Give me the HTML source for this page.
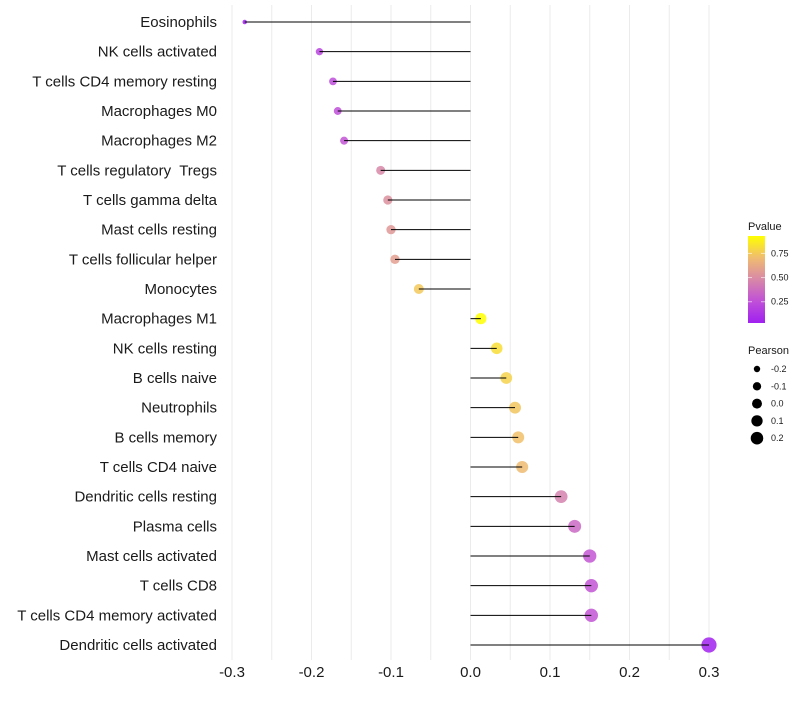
<!DOCTYPE html>
<html><head><meta charset="utf-8"><style>
body{margin:0;background:#fff;}
svg{font-family:"Liberation Sans",sans-serif;}
svg text{white-space:pre;}
</style></head><body>
<svg id="c" width="800" height="700" xmlns="http://www.w3.org/2000/svg"></svg>
<script>
const categories=["Eosinophils","NK cells activated","T cells CD4 memory resting","Macrophages M0","Macrophages M2","T cells regulatory  Tregs","T cells gamma delta","Mast cells resting","T cells follicular helper","Monocytes","Macrophages M1","NK cells resting","B cells naive","Neutrophils","B cells memory","T cells CD4 naive","Dendritic cells resting","Plasma cells","Mast cells activated","T cells CD8","T cells CD4 memory activated","Dendritic cells activated"];
const pearson=[-0.284,-0.19,-0.173,-0.167,-0.159,-0.113,-0.104,-0.100,-0.095,-0.065,0.013,0.033,0.045,0.056,0.060,0.065,0.114,0.131,0.150,0.152,0.152,0.300];
const pvalues=[0.03,0.2,0.24,0.25,0.27,0.48,0.52,0.55,0.58,0.75,0.93,0.82,0.78,0.74,0.72,0.7,0.45,0.35,0.28,0.27,0.27,0.04];
const xTicks=[-0.3,-0.2,-0.1,0.0,0.1,0.2,0.3];
const xTickLabels=["-0.3","-0.2","-0.1","0.0","0.1","0.2","0.3"];
const pLegendTicks=[0.25,0.5,0.75];
const sizeLegend=[-0.2,-0.1,0.0,0.1,0.2];

const NS="http://www.w3.org/2000/svg";
const svg=document.getElementById('c');
const x=v=>470.5+v*795;
const y=i=>22+i*(623/21);
const r=v=>Math.sqrt(Math.max(3,5+(v+0.284)*90));
const stops=[[0,[160,32,240]],[0.25,[192,80,216]],[0.5,[216,136,168]],[0.75,[240,188,112]],[1,[255,255,0]]];
function col(p){
  const t=Math.min(1,Math.max(0,(p-0.03)/0.9));
  for(let k=0;k<stops.length-1;k++){
    const [a,ca]=stops[k],[b,cb]=stops[k+1];
    if(t<=b){const f=(t-a)/(b-a);return 'rgb('+ca.map((c,j)=>Math.round(c+(cb[j]-c)*f)).join(',')+')';}
  }
  return 'rgb(255,255,0)';
}
function el(tag,attrs){const e=document.createElementNS(NS,tag);for(const k in attrs)e.setAttribute(k,attrs[k]);svg.appendChild(e);return e;}

for(let g=-0.3;g<=0.3001;g+=0.05){
  const gl=el('line',{x1:x(g),x2:x(g),y1:5,y2:660,stroke:'#ebebeb','stroke-width':1});
  
  
}
categories.forEach((c,i)=>{
  const t=el('text',{x:217,y:y(i)+5,'text-anchor':'end','font-size':15,fill:'#1a1a1a'});
  t.textContent=c;
  
  
  const d=el('circle',{cx:x(pearson[i]),cy:y(i),r:r(pearson[i]),fill:col(pvalues[i]),'fill-opacity':0.85});
  
  
  const s=el('line',{x1:x(0),x2:x(pearson[i]),y1:y(i),y2:y(i),stroke:'#000','stroke-width':1});
  
  
});
xTicks.forEach((v,i)=>{
  const t=el('text',{x:x(v),y:677,'text-anchor':'middle','font-size':15,fill:'#1a1a1a'});
  t.textContent=xTickLabels[i];
  
  
});
const lt=el('text',{x:748,y:230,'font-size':11,fill:'#1a1a1a'});lt.textContent='Pvalue';


const defs=el('defs',{});
const lg=document.createElementNS(NS,'linearGradient');lg.setAttribute('id','g');lg.setAttribute('x1','0');lg.setAttribute('y1','1');lg.setAttribute('x2','0');lg.setAttribute('y2','0');
stops.forEach(s=>{const st=document.createElementNS(NS,'stop');st.setAttribute('offset',s[0]);st.setAttribute('stop-color','rgb('+s[1].join(',')+')');lg.appendChild(st);});
defs.appendChild(lg);
const bar=el('rect',{x:748,y:236,width:17,height:87,fill:'url(#g)'});


const py=p=>323-(p-0.03)/0.9*87;
pLegendTicks.forEach(p=>{
  el('line',{x1:748,x2:752,y1:py(p),y2:py(p),stroke:'#fff','stroke-opacity':0.6});
  el('line',{x1:761,x2:765,y1:py(p),y2:py(p),stroke:'#fff','stroke-opacity':0.6});
  const t=el('text',{x:771,y:py(p)+3,'font-size':9,fill:'#1a1a1a'});t.textContent=p.toFixed(2);
  
  
});
const st2=el('text',{x:748,y:354,'font-size':11,fill:'#1a1a1a'});st2.textContent='Pearson';


sizeLegend.forEach((v,i)=>{
  const cy=369+i*17.3;
  const d=el('circle',{cx:757,cy:cy,r:r(v)*0.9,fill:'#000'});
  
  
  const t=el('text',{x:771,y:cy+3,'font-size':9,fill:'#1a1a1a'});t.textContent=v.toFixed(1);
  
  
});
</script>
</body></html>
